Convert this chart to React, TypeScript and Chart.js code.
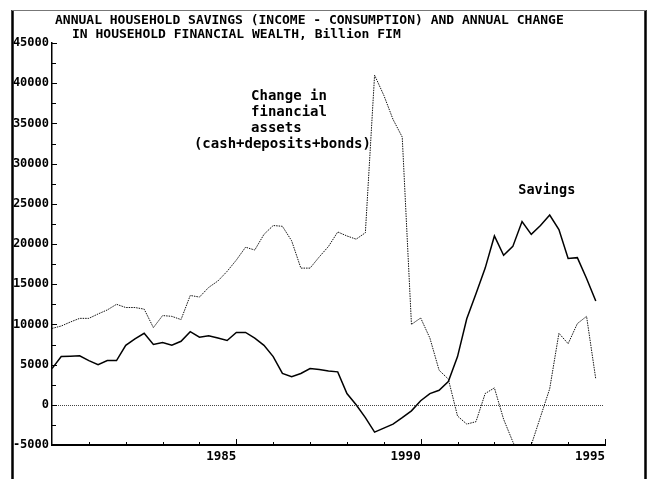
import React, { useEffect, useRef } from "react";
import { Chart, registerables } from "chart.js";

Chart.register(...registerables);

// Quarterly observations, 1980Q1 .. 1994Q4
const startYear = 1980;
const savings = [
  4500, 6000, 6050, 6100, 5500, 5000, 5500, 5500, 7400, 8200,
  8900, 7500, 7750, 7400, 7900, 9100, 8400, 8600, 8300, 8000,
  9000, 9000, 8300, 7400, 6000, 3900, 3500, 3900, 4500, 4400,
  4200, 4100, 1400, 0, -1600, -3400, -2900, -2400, -1600, -750,
  500, 1400, 1800, 2900, 6000, 10700, 13800, 17000, 21000, 18600,
  19700, 22800, 21200, 22300, 23600, 21800, 18200, 18300, 15700, 12900,
];
const financialAssets = [
  9500, 9800, 10300, 10750, 10750, 11300, 11800, 12500, 12100, 12100,
  11900, 9600, 11100, 11000, 10600, 13600, 13400, 14600, 15400, 16600,
  18000, 19600, 19250, 21200, 22300, 22200, 20400, 17000, 17000, 18400,
  19700, 21500, 21000, 20600, 21400, 41000, 38500, 35500, 33300, 10000,
  10800, 8300, 4300, 3200, -1400, -2400, -2100, 1400, 2100, -1800,
  -4600, -7000, -5000, -1500, 2000, 8900, 7600, 10100, 11000, 3200,
];
const quarters = savings.map((_, i) => startYear + i * 0.25);

const yMin = -5000;
const yMax = 45000;
const xMin = 1980;
const xMax = 1995;
const xLabelYears = [1985, 1990, 1995];

const titleLines = [
  "ANNUAL HOUSEHOLD SAVINGS (INCOME - CONSUMPTION) AND ANNUAL CHANGE",
  "IN HOUSEHOLD FINANCIAL WEALTH, Billion FIM",
];
const assetsLabel = ["Change in", "financial", "assets", "(cash+deposits+bonds)"];
const savingsLabel = "Savings";

const MONO = '"DejaVu Sans Mono", "Liberation Mono", monospace';

const decorPlugin = {
  id: "decor",
  beforeDatasetsDraw(chart: any) {
    const { ctx, scales } = chart;
    const xs = scales.x;
    const ys = scales.y;
    ctx.save();
    // zero reference line
    ctx.strokeStyle = "#444";
    ctx.lineWidth = 1;
    ctx.setLineDash([1, 1]);
    const y0 = Math.round(ys.getPixelForValue(0)) + 0.5;
    ctx.beginPath();
    ctx.moveTo(xs.left, y0);
    ctx.lineTo(xs.right - 2, y0);
    ctx.stroke();
    ctx.restore();
  },
  afterDraw(chart: any) {
    const { ctx, scales, height } = chart;
    const xs = scales.x;
    const ys = scales.y;
    ctx.save();
    ctx.setLineDash([]);
    ctx.strokeStyle = "#000";
    // outer frame
    ctx.lineWidth = 2.5;
    ctx.beginPath();
    ctx.moveTo(12.5, 10);
    ctx.lineTo(12.5, height);
    ctx.moveTo(645.5, 10);
    ctx.lineTo(645.5, height);
    ctx.stroke();
    ctx.strokeStyle = "#777";
    ctx.lineWidth = 1;
    ctx.beginPath();
    ctx.moveTo(12, 10.5);
    ctx.lineTo(646, 10.5);
    ctx.stroke();

    // inside tick marks on the y axis
    ctx.strokeStyle = "#000";
    ctx.lineWidth = 1;
    for (let v = yMin; v <= yMax; v += 2500) {
      const py = Math.round(ys.getPixelForValue(v)) + 0.5;
      const len = v % 5000 === 0 ? 5 : 4;
      ctx.beginPath();
      ctx.moveTo(xs.left, py);
      ctx.lineTo(xs.left + len, py);
      ctx.stroke();
    }
    // inside tick marks on the x axis
    for (let yr = xMin + 1; yr <= xMax; yr++) {
      const px = Math.round(xs.getPixelForValue(yr)) + 0.5;
      const len = yr % 5 === 0 ? 6 : 3;
      ctx.beginPath();
      ctx.moveTo(px, ys.bottom);
      ctx.lineTo(px, ys.bottom - len);
      ctx.stroke();
    }

    // title
    ctx.fillStyle = "#000";
    ctx.textBaseline = "middle";
    ctx.textAlign = "left";
    ctx.font = `bold 13px ${MONO}`;
    ctx.fillText(titleLines[0], 55, 21);
    ctx.fillText(titleLines[1], 72, 35);

    // series annotations
    ctx.font = `bold 14px ${MONO}`;
    const ax = xs.getPixelForValue(1985.4);
    const ax2 = xs.getPixelForValue(1983.85);
    const aTop = ys.getPixelForValue(38400);
    assetsLabel.forEach((t, i) => {
      ctx.fillText(t, i === 3 ? ax2 : ax, aTop + i * 16);
    });
    ctx.font = `bold 13.5px ${MONO}`;
    ctx.fillText(savingsLabel, xs.getPixelForValue(1992.65), ys.getPixelForValue(26600));
    ctx.restore();
  },
};

export default function App() {
  const ref = useRef<HTMLCanvasElement | null>(null);
  useEffect(() => {
    if (!ref.current) return;
    const chart = new Chart(ref.current, {
      type: "line",
      data: {
        labels: quarters,
        datasets: [
          {
            label: "Change in financial assets",
            data: quarters.map((q, i) => ({ x: q, y: financialAssets[i] })),
            borderColor: "#111",
            borderWidth: 1,
            borderDash: [1.5, 1],
            pointRadius: 0,
            tension: 0,
            fill: false,
          },
          {
            label: "Savings",
            data: quarters.map((q, i) => ({ x: q, y: savings[i] })),
            borderColor: "#000",
            borderWidth: 1.5,
            pointRadius: 0,
            tension: 0,
            fill: false,
          },
        ],
      },
      options: {
        animation: false,
        responsive: false,
        maintainAspectRatio: false,
        layout: { padding: { left: 0, right: 48, top: 43, bottom: 0 } },
        plugins: {
          legend: { display: false },
          title: { display: false },
          tooltip: { enabled: false },
        },
        scales: {
          x: {
            type: "linear",
            min: xMin,
            max: xMax,
            afterFit: (s: any) => {
              s.height = 34;
            },
            afterBuildTicks: (s: any) => {
              s.ticks = xLabelYears.map((v) => ({ value: v }));
            },
            grid: { display: false, drawTicks: false },
            border: { display: true, color: "#000", width: 2 },
            ticks: {
              align: "end",
              padding: 4,
              color: "#000",
              font: { family: MONO, size: 12.5, weight: "bold" },
              callback: (v: any) => String(v),
              maxRotation: 0,
              autoSkip: false,
            },
          },
          y: {
            type: "linear",
            min: yMin,
            max: yMax,
            afterFit: (s: any) => {
              s.width = 52;
            },
            grid: { display: false, drawTicks: false },
            border: { display: true, color: "#000", width: 1.5 },
            ticks: {
              stepSize: 5000,
              padding: 3,
              color: "#000",
              font: { family: MONO, size: 12, weight: "bold" },
              callback: (v: any) => String(v),
            },
          },
        },
      },
      plugins: [decorPlugin],
    });
    return () => chart.destroy();
  }, []);
  return (
    <div style={{ position: "absolute", left: 0, top: 0, width: 653, height: 479, background: "#fff" }}>
      <canvas ref={ref} width={653} height={479} style={{ display: "block" }} />
    </div>
  );
}
